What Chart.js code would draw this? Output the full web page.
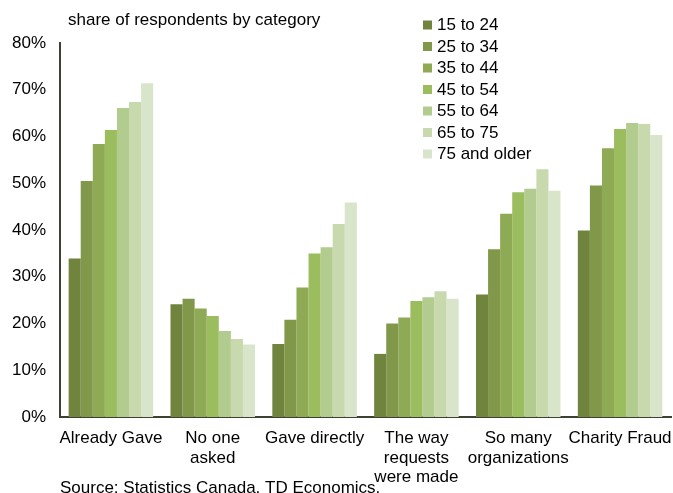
<!DOCTYPE html>
<html>
<head>
<meta charset="utf-8">
<script src="https://cdn.jsdelivr.net/npm/chart.js@4/dist/chart.umd.min.js"></script>
<style>
  html, body { margin: 0; padding: 0; background: #fff; }
  #wrap { width: 673px; height: 493px; position: relative; }
</style>
</head>
<body>
<div id="wrap"><canvas id="c" width="673" height="493"></canvas></div>
<script>
// Reasons for not giving more, by age group (percent of respondents)
const categories = [
  "Already Gave",
  ["No one", "asked"],
  "Gave directly",
  ["The way", "requests", "were made"],
  ["So many", "organizations"],
  "Charity Fraud"
];
const ageGroups = ["15 to 24", "25 to 34", "35 to 44", "45 to 54", "55 to 64", "65 to 75", "75 and older"];

const age15to24   = [33.9, 24.1, 15.6, 13.5, 26.2, 39.9];
const age25to34   = [50.5, 25.3, 20.8, 20.0, 35.9, 49.5];
const age35to44   = [58.4, 23.2, 27.7, 21.3, 43.5, 57.5];
const age45to54   = [61.4, 21.6, 35.0, 24.8, 48.1, 61.6];
const age55to64   = [66.1, 18.4, 36.3, 25.6, 48.8, 62.9];
const age65to75   = [67.4, 16.7, 41.3, 26.9, 53.0, 62.7];
const age75plus   = [71.4, 15.5, 45.9, 25.3, 48.4, 60.3];

const yTicks = [0, 10, 20, 30, 40, 50, 60, 70, 80];

const seriesValues = [age15to24, age25to34, age35to44, age45to54, age55to64, age65to75, age75plus];
const colors = ["#70843e", "#81984a", "#8faa54", "#9cbd5e", "#b2cb8e", "#c8d9ae", "#d9e5ca"];

const FONT = "'Liberation Sans', Arial, sans-serif";
const axisColor = "#3b4233";

// Title, legend and source line drawn directly on the canvas
const decorations = {
  id: "decorations",
  afterDraw(chart) {
    const ctx = chart.ctx;
    ctx.save();
    ctx.fillStyle = "#000";
    ctx.font = "17px " + FONT;
    ctx.textBaseline = "middle";
    ctx.textAlign = "left";
    ctx.fillText("share of respondents by category", 68, 20);

    chart.data.datasets.forEach((ds, i) => {
      const y = 25 + i * 21.5;
      ctx.fillStyle = ds.backgroundColor;
      ctx.fillRect(423, y - 4.5, 9, 9);
      ctx.fillStyle = "#000";
      ctx.fillText(ds.label, 437, y + 0.5);
    });

    ctx.fillText("Source: Statistics Canada, TD Economics.", 60, 488);
    ctx.restore();
  }
};

new Chart(document.getElementById("c"), {
  type: "bar",
  data: {
    labels: categories,
    datasets: ageGroups.map((name, i) => ({
      label: name,
      data: seriesValues[i],
      backgroundColor: colors[i],
      borderWidth: 0,
      categoryPercentage: 0.83,
      barPercentage: 1.0
    }))
  },
  options: {
    responsive: false,
    animation: false,
    devicePixelRatio: 1,
    layout: { padding: { top: 43, right: 2, left: 0, bottom: 0 } },
    plugins: {
      legend: { display: false },
      title: { display: false },
      tooltip: { enabled: false }
    },
    scales: {
      x: {
        grid: { display: false, drawTicks: false },
        border: { display: true, color: axisColor, width: 2 },
        ticks: {
          color: "#000",
          font: { family: FONT, size: 17, lineHeight: 1.13 },
          padding: 12,
          maxRotation: 0,
          autoSkip: false
        },
        afterFit(scale) {
          scale.height = 76;
          scale.paddingLeft = 0;
          scale.paddingRight = 0;
        }
      },
      y: {
        min: 0,
        max: 80,
        afterBuildTicks(scale) { scale.ticks = yTicks.map(v => ({ value: v })); },
        grid: { display: false, drawTicks: false },
        border: { display: true, color: axisColor, width: 2 },
        ticks: {
          color: "#000",
          font: { family: FONT, size: 17 },
          padding: 14,
          callback: v => v + "%"
        },
        afterFit(scale) { scale.width = 60; }
      }
    }
  },
  plugins: [decorations]
});
</script>
</body>
</html>
